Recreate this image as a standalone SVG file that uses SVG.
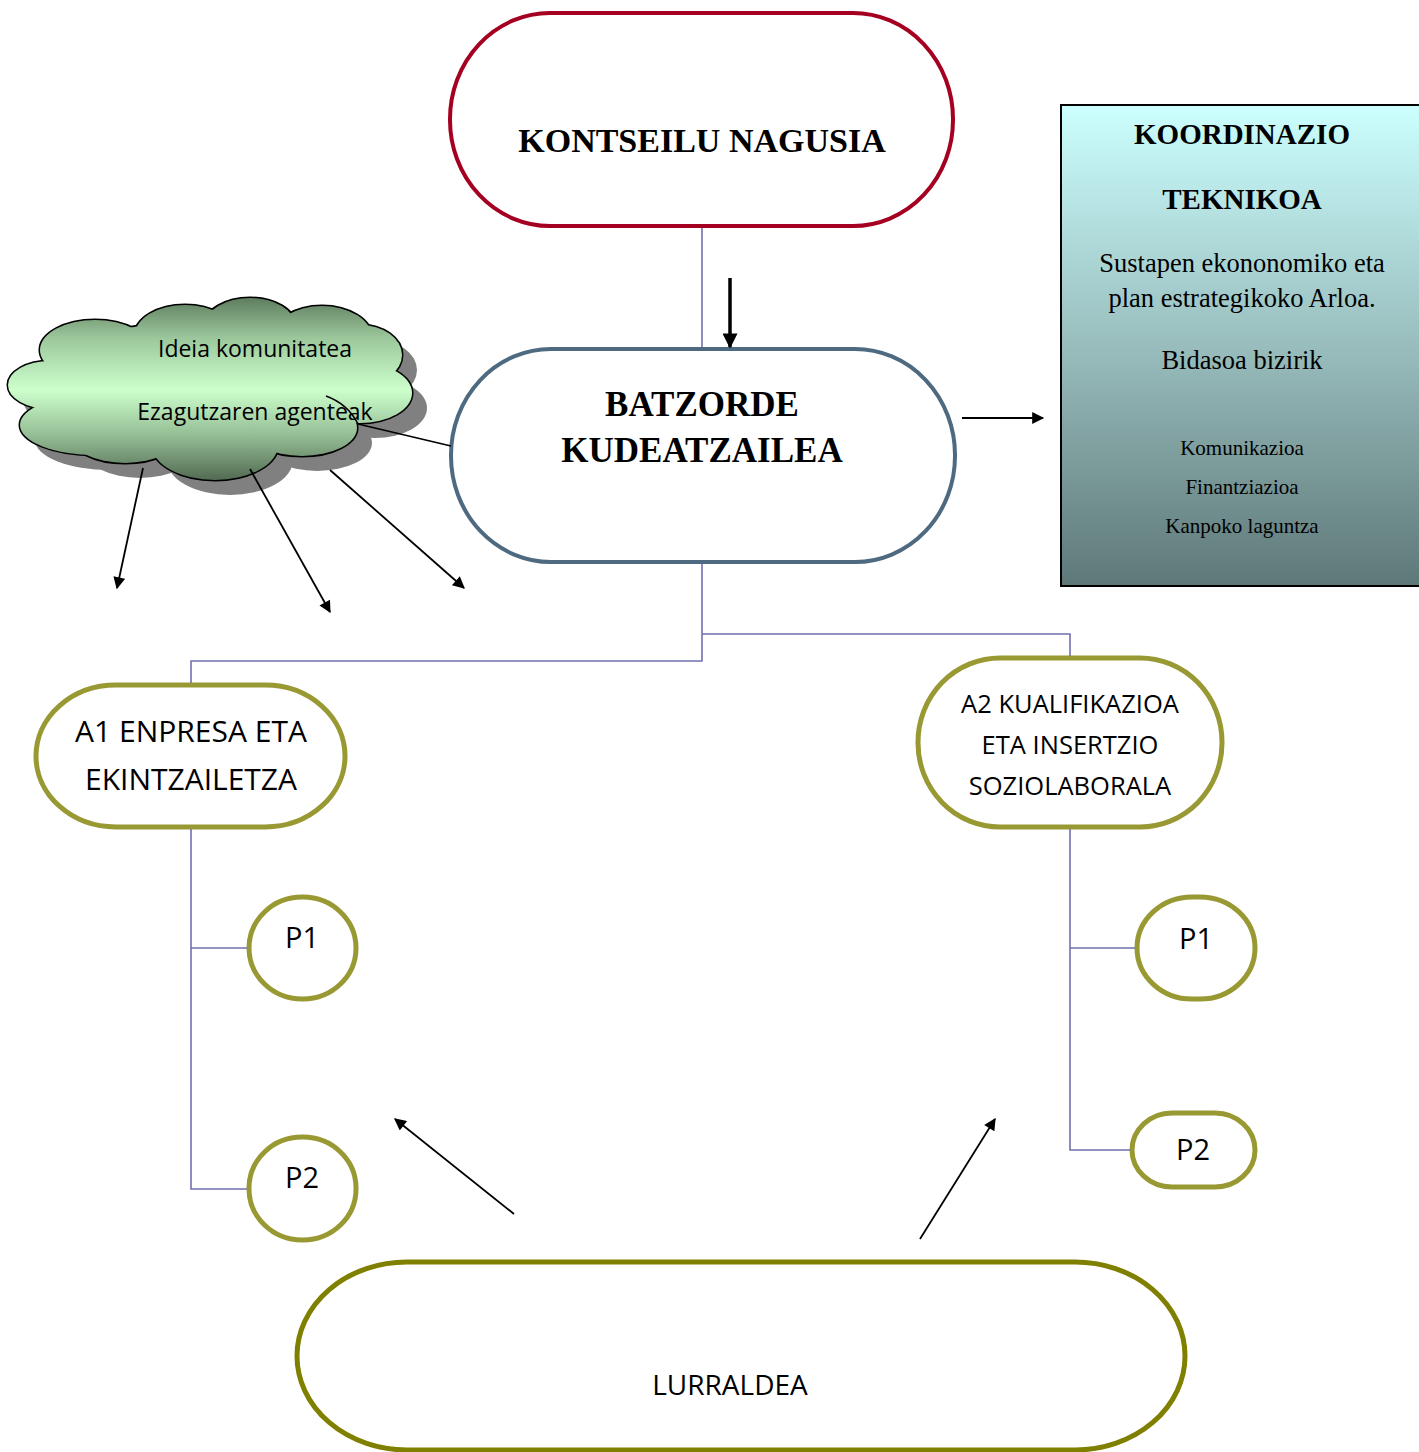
<svg xmlns="http://www.w3.org/2000/svg" width="1419" height="1452" viewBox="0 0 1419 1452">
<style>
.serifb{font-family:"Liberation Serif","Times New Roman",serif;font-weight:bold;fill:#000;text-anchor:middle}
.serif{font-family:"Liberation Serif","Times New Roman",serif;fill:#000;text-anchor:middle}
.sans{font-family:"Open Sans","Noto Sans",sans-serif;fill:#000;text-anchor:middle}
.olive{fill:#fff;stroke:#999933;stroke-width:5}
.conn{stroke:#7070AE;stroke-width:1.6;fill:none}
.arr{stroke:#000;stroke-width:1.8;fill:none;marker-end:url(#ah)}
</style>
<defs>
<marker id="ah" viewBox="0 0 10 10" refX="9" refY="5" markerWidth="15" markerHeight="12" markerUnits="userSpaceOnUse" orient="auto">
<path d="M0,0 L10,5 L0,10 z" fill="#000"/>
</marker>
<marker id="ah2" viewBox="0 0 10 10" refX="9" refY="5" markerWidth="18" markerHeight="15" markerUnits="userSpaceOnUse" orient="auto">
<path d="M0,0 L10,5 L0,10 z" fill="#000"/>
</marker>
<linearGradient id="kgrad" x1="0" y1="0" x2="0" y2="1">
<stop offset="0" stop-color="#CCFFFF"/>
<stop offset="0.5" stop-color="#99BDBD"/>
<stop offset="1" stop-color="#5E7878"/>
</linearGradient>
<linearGradient id="cgrad" gradientUnits="userSpaceOnUse" x1="0" y1="298" x2="0" y2="482">
<stop offset="0" stop-color="#5F7D5F"/>
<stop offset="0.22" stop-color="#9CC89C"/>
<stop offset="0.5" stop-color="#CCFFCC"/>
<stop offset="0.75" stop-color="#94BC94"/>
<stop offset="1" stop-color="#4F674F"/>
</linearGradient>
<g id="cloudshape">
<ellipse cx="50" cy="385" rx="42" ry="24"/>
<ellipse cx="95" cy="425" rx="75" ry="30"/>
<ellipse cx="95" cy="350" rx="55" ry="30"/>
<ellipse cx="185" cy="335" rx="50" ry="30"/>
<ellipse cx="250" cy="325" rx="45" ry="27"/>
<ellipse cx="322" cy="338" rx="50" ry="32"/>
<ellipse cx="360" cy="355" rx="42" ry="30"/>
<ellipse cx="360" cy="393" rx="52" ry="30"/>
<ellipse cx="302" cy="428" rx="55" ry="28"/>
<ellipse cx="215" cy="445" rx="63" ry="35"/>
<ellipse cx="125" cy="435" rx="55" ry="28"/>
<ellipse cx="210" cy="385" rx="170" ry="65"/>
</g>
</defs>

<g id="kontseilu">
<rect x="450" y="13" width="503" height="213" rx="100" ry="106" fill="#fff" stroke="#A50021" stroke-width="4"/>
<text class="serifb" x="702" y="152" font-size="34">KONTSEILU NAGUSIA</text>
</g>

<g id="batzorde">
<rect x="451" y="349" width="504" height="213" rx="100" ry="106" fill="#fff" stroke="#4E6A80" stroke-width="4"/>
<text class="serifb" x="702" y="416" font-size="35">BATZORDE</text>
<text class="serifb" x="702" y="462" font-size="35">KUDEATZAILEA</text>
</g>

<g id="koordinazio">
<rect x="1061" y="105" width="362" height="481" fill="url(#kgrad)" stroke="#000" stroke-width="2"/>
<text class="serifb" x="1242" y="144" font-size="29">KOORDINAZIO</text>
<text class="serifb" x="1242" y="209" font-size="29">TEKNIKOA</text>
<text class="serif" x="1242" y="272" font-size="26.5">Sustapen ekononomiko eta</text>
<text class="serif" x="1242" y="307" font-size="26.5">plan estrategikoko Arloa.</text>
<text class="serif" x="1242" y="369" font-size="26.5">Bidasoa bizirik</text>
<text class="serif" x="1242" y="455" font-size="21">Komunikazioa</text>
<text class="serif" x="1242" y="494" font-size="21">Finantziazioa</text>
<text class="serif" x="1242" y="533" font-size="21">Kanpoko laguntza</text>
</g>

<g id="cloud">
<use href="#cloudshape" transform="translate(15,15)" fill="#808080"/>
<use href="#cloudshape" fill="none" stroke="#000" stroke-width="3"/>
<use href="#cloudshape" fill="url(#cgrad)"/>
<path d="M326,396 Q348,404 358,424" fill="none" stroke="#000" stroke-width="1.5"/>
<text class="sans" x="255" y="357" font-size="23">Ideia komunitatea</text>
<text class="sans" x="255" y="420" font-size="23">Ezagutzaren agenteak</text>
</g>

<g id="a1">
<rect class="olive" x="36" y="685" width="309" height="142" rx="80" ry="71"/>
<text class="sans" x="191" y="742" font-size="30">A1 ENPRESA ETA</text>
<text class="sans" x="191" y="790" font-size="30">EKINTZAILETZA</text>
</g>

<g id="a2">
<rect class="olive" x="918" y="658" width="304" height="169" rx="82" ry="84"/>
<text class="sans" x="1070" y="713" font-size="25.5">A2 KUALIFIKAZIOA</text>
<text class="sans" x="1070" y="754" font-size="25.5">ETA INSERTZIO</text>
<text class="sans" x="1070" y="795" font-size="25.5">SOZIOLABORALA</text>
</g>

<g id="a1p1">
<rect class="olive" x="249" y="897" width="107" height="102" rx="53" ry="51"/>
<text class="sans" x="302" y="948" font-size="29">P1</text>
</g>
<g id="a1p2">
<rect class="olive" x="249" y="1137" width="107" height="103" rx="53" ry="51"/>
<text class="sans" x="302" y="1188" font-size="29">P2</text>
</g>
<g id="a2p1">
<rect class="olive" x="1137" y="897" width="118" height="102" rx="55" ry="51"/>
<text class="sans" x="1196" y="949" font-size="29">P1</text>
</g>
<g id="a2p2">
<rect class="olive" x="1132" y="1113" width="123" height="74" rx="40" ry="37"/>
<text class="sans" x="1193" y="1160" font-size="29">P2</text>
</g>

<g id="lurraldea">
<rect x="297" y="1262" width="888" height="188" rx="110" ry="94" fill="#fff" stroke="#808000" stroke-width="5"/>
<text class="sans" x="730" y="1395" font-size="28">LURRALDEA</text>
</g>

<g id="connectors">
<path class="conn" d="M702,228 V347"/>
<path class="conn" d="M702,564 V661 H191 V683"/>
<path class="conn" d="M702,634 H1070 V656"/>
<path class="conn" d="M191,829 V1189 H247 M191,948 H247"/>
<path class="conn" d="M1070,829 V1150 H1130 M1070,948 H1135"/>
<line x1="730" y1="278" x2="730" y2="347" stroke="#000" stroke-width="3.5" marker-end="url(#ah2)"/>
<line class="arr" x1="962" y1="418" x2="1043" y2="418"/>
<line x1="358" y1="424" x2="451" y2="446" stroke="#000" stroke-width="1.6"/>
<line class="arr" x1="143" y1="468" x2="117" y2="588"/>
<line class="arr" x1="250" y1="469" x2="330" y2="612"/>
<line class="arr" x1="330" y1="470" x2="464" y2="588"/>
<line class="arr" x1="514" y1="1214" x2="395" y2="1119"/>
<line class="arr" x1="920" y1="1239" x2="995" y2="1119"/>
</g>
</svg>
